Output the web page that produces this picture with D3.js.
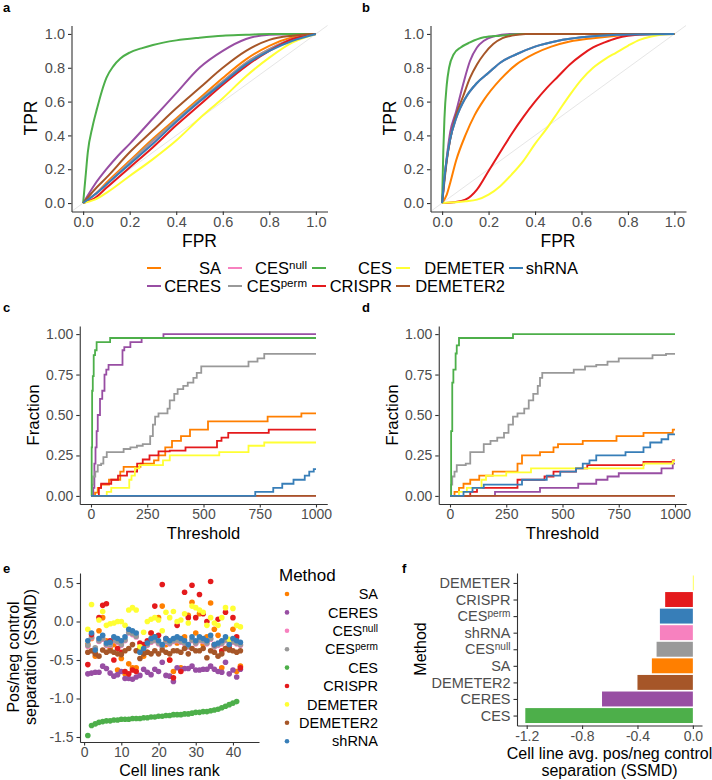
<!DOCTYPE html>
<html><head><meta charset="utf-8">
<script src="https://cdn.jsdelivr.net/npm/d3@7"></script>
<style>body{margin:0;background:#fff} svg{font-family:"Liberation Sans",Arial,sans-serif}</style>
</head><body><svg id="c" width="712" height="780"></svg>
<script>
// ---------- DATA ----------
const methods = ["SA","CERES","CESnull","CESperm","CES","CRISPR","DEMETER","DEMETER2","shRNA"];
const colors  = ["#FF7F00","#984EA3","#F781BF","#999999","#4DAF4A","#E41A1C","#FFFF33","#A65628","#377EB8"];

// Panel a ROC [FPR, TPR]
const rocA_SA = [[0,0],[0.05,0.05],[0.1,0.12],[0.2,0.25],[0.3,0.38],[0.4,0.5],[0.5,0.62],[0.6,0.74],[0.7,0.85],[0.8,0.93],[0.9,0.98],[1,1]];
const rocA_CERES = [[0,0],[0.05,0.11],[0.1,0.2],[0.15,0.28],[0.2,0.35],[0.3,0.5],[0.4,0.65],[0.5,0.8],[0.6,0.9],[0.7,0.97],[0.8,0.995],[1,1]];
const rocA_CESnull = [[0,0],[0.05,0.05],[0.1,0.11],[0.2,0.24],[0.3,0.36],[0.4,0.48],[0.5,0.6],[0.6,0.72],[0.7,0.83],[0.8,0.91],[0.9,0.97],[1,1]];
const rocA_CESperm = [[0,0],[0.05,0.05],[0.1,0.11],[0.2,0.24],[0.3,0.37],[0.4,0.49],[0.5,0.61],[0.6,0.72],[0.7,0.83],[0.8,0.91],[0.9,0.97],[1,1]];
const rocA_CES = [[0,0],[0.01,0.15],[0.02,0.3],[0.04,0.45],[0.06,0.56],[0.08,0.66],[0.1,0.74],[0.13,0.81],[0.16,0.855],[0.2,0.89],[0.25,0.915],[0.3,0.935],[0.4,0.962],[0.5,0.978],[0.6,0.99],[0.7,0.995],[0.8,1],[1,1]];
const rocA_CRISPR = [[0,0],[0.05,0.03],[0.1,0.09],[0.2,0.21],[0.3,0.33],[0.4,0.46],[0.5,0.58],[0.6,0.7],[0.7,0.81],[0.8,0.9],[0.9,0.97],[1,1]];
const rocA_DEMETER = [[0,0],[0.05,0.02],[0.1,0.06],[0.2,0.16],[0.3,0.26],[0.4,0.37],[0.5,0.5],[0.6,0.62],[0.7,0.75],[0.8,0.86],[0.9,0.95],[1,1]];
const rocA_DEMETER2 = [[0,0],[0.05,0.08],[0.1,0.15],[0.2,0.3],[0.3,0.43],[0.4,0.56],[0.5,0.68],[0.6,0.8],[0.7,0.9],[0.8,0.965],[0.9,0.99],[1,1]];
const rocA_shRNA = [[0,0],[0.05,0.05],[0.1,0.11],[0.2,0.23],[0.3,0.35],[0.4,0.48],[0.5,0.6],[0.6,0.71],[0.7,0.82],[0.8,0.9],[0.9,0.96],[1,1]];

// Panel b ROC
const rocB_SA = [[0,0],[0.02,0.05],[0.035,0.12],[0.06,0.25],[0.1,0.4],[0.14,0.52],[0.18,0.61],[0.25,0.73],[0.32,0.82],[0.4,0.885],[0.47,0.925],[0.55,0.955],[0.65,0.975],[0.75,0.99],[0.85,1],[1,1]];
const rocB_CERES = [[0,0],[0.01,0.15],[0.02,0.27],[0.035,0.42],[0.06,0.54],[0.09,0.7],[0.12,0.84],[0.15,0.92],[0.18,0.96],[0.22,0.985],[0.3,1],[1,1]];
const rocB_CESnull = [[0,0],[0.01,0.15],[0.02,0.26],[0.035,0.38],[0.06,0.5],[0.1,0.62],[0.15,0.71],[0.2,0.77],[0.25,0.83],[0.32,0.88],[0.4,0.925],[0.5,0.96],[0.6,0.98],[0.75,0.995],[1,1]];
const rocB_CESperm = [[0,0],[0.01,0.15],[0.02,0.26],[0.035,0.38],[0.06,0.5],[0.1,0.62],[0.15,0.71],[0.2,0.77],[0.25,0.83],[0.32,0.88],[0.4,0.925],[0.5,0.96],[0.6,0.98],[0.75,0.995],[1,1]];
const rocB_CES = [[0,0],[0.005,0.3],[0.01,0.5],[0.02,0.7],[0.03,0.8],[0.05,0.88],[0.08,0.92],[0.12,0.95],[0.18,0.98],[0.25,0.99],[0.35,1],[1,1]];
const rocB_CRISPR = [[0,0],[0.05,0.005],[0.1,0.02],[0.15,0.08],[0.2,0.19],[0.25,0.3],[0.3,0.41],[0.35,0.51],[0.4,0.6],[0.45,0.68],[0.5,0.75],[0.55,0.82],[0.6,0.875],[0.65,0.92],[0.7,0.95],[0.75,0.975],[0.8,0.99],[0.9,1],[1,1]];
const rocB_DEMETER = [[0,0],[0.1,0.01],[0.15,0.02],[0.2,0.05],[0.25,0.1],[0.3,0.17],[0.35,0.25],[0.4,0.35],[0.45,0.44],[0.5,0.54],[0.55,0.64],[0.6,0.73],[0.65,0.8],[0.7,0.85],[0.75,0.89],[0.8,0.93],[0.85,0.965],[0.9,0.985],[0.95,0.997],[1,1]];
const rocB_DEMETER2 = [[0,0],[0.01,0.13],[0.02,0.25],[0.035,0.38],[0.06,0.52],[0.09,0.63],[0.12,0.74],[0.15,0.82],[0.18,0.88],[0.22,0.94],[0.26,0.975],[0.3,0.99],[0.36,1],[1,1]];
const rocB_shRNA = [[0,0],[0.01,0.15],[0.02,0.26],[0.035,0.38],[0.06,0.5],[0.1,0.62],[0.15,0.71],[0.2,0.77],[0.25,0.83],[0.32,0.88],[0.4,0.925],[0.5,0.96],[0.6,0.98],[0.75,0.995],[1,1]];

// Panel c steps [threshold, fraction]
const fracC_SA = [[0,0],[18,0.02],[30,0.05],[45,0.07],[80,0.1],[130,0.15],[145,0.18],[220,0.2],[280,0.22],[300,0.25],[330,0.3],[360,0.34],[400,0.37],[440,0.41],[520,0.46],[785,0.49],[935,0.51],[1000,0.51]];
const fracC_CERES = [[0,0],[10,0.05],[15,0.2],[20,0.3],[25,0.4],[30,0.5],[40,0.6],[50,0.65],[60,0.75],[68,0.78],[78,0.81],[140,0.9],[148,0.92],[175,0.95],[225,0.975],[322,1.0],[1000,1.0]];
const fracC_CESnull = [[0,0],[1000,0]];
const fracC_CESperm = [[0,0],[5,0.07],[10,0.12],[19,0.15],[30,0.19],[45,0.2],[55,0.24],[70,0.27],[145,0.29],[175,0.3],[204,0.31],[230,0.32],[263,0.37],[275,0.44],[285,0.49],[300,0.51],[340,0.54],[350,0.59],[370,0.63],[385,0.66],[410,0.68],[430,0.7],[455,0.73],[470,0.76],[490,0.8],[700,0.83],[740,0.85],[770,0.878],[1000,0.878]];
const fracC_CES = [[0,0],[3,0.3],[5,0.65],[8,0.74],[12,0.87],[18,0.9],[25,0.95],[85,0.976],[1000,0.976]];
const fracC_CRISPR = [[0,0],[35,0.05],[45,0.075],[90,0.1],[120,0.125],[160,0.15],[205,0.2],[230,0.225],[260,0.25],[300,0.275],[350,0.28],[420,0.3],[560,0.34],[580,0.36],[610,0.39],[790,0.41],[1000,0.41]];
const fracC_DEMETER = [[0,0],[70,0.025],[90,0.05],[170,0.1],[180,0.125],[195,0.17],[215,0.19],[320,0.22],[350,0.25],[570,0.27],[700,0.31],[770,0.33],[1000,0.33]];
const fracC_DEMETER2 = [[0,0],[1000,0]];
const fracC_shRNA = [[0,0],[730,0.025],[810,0.05],[850,0.075],[900,0.1],[950,0.125],[970,0.15],[990,0.165],[1000,0.165]];

// Panel d steps
const fracD_SA = [[0,0],[20,0.025],[40,0.05],[60,0.075],[90,0.1],[130,0.125],[190,0.15],[300,0.2],[320,0.25],[400,0.27],[460,0.3],[480,0.32],[590,0.34],[740,0.37],[860,0.39],[990,0.41],[1000,0.41]];
const fracD_CERES = [[0,0],[200,0.025],[400,0.05],[570,0.075],[650,0.1],[700,0.12],[750,0.14],[940,0.17],[990,0.2],[1000,0.2]];
const fracD_CESnull = [[0,0],[1000,0]];
const fracD_CESperm = [[0,0],[5,0.07],[10,0.12],[20,0.15],[30,0.19],[70,0.2],[90,0.27],[130,0.27],[150,0.32],[180,0.34],[210,0.36],[240,0.39],[260,0.44],[280,0.49],[300,0.51],[330,0.54],[350,0.59],[370,0.63],[390,0.68],[400,0.73],[410,0.76],[550,0.78],[600,0.8],[650,0.81],[700,0.83],[750,0.85],[900,0.87],[960,0.878],[1000,0.878]];
const fracD_CES = [[0,0],[5,0.4],[10,0.7],[15,0.78],[25,0.88],[30,0.93],[40,0.976],[280,1.0],[1000,1.0]];
const fracD_CRISPR = [[0,0],[90,0.025],[120,0.05],[300,0.1],[420,0.12],[460,0.15],[560,0.17],[610,0.19],[860,0.21],[990,0.22],[1000,0.22]];
const fracD_DEMETER = [[0,0],[40,0.025],[75,0.05],[140,0.1],[160,0.125],[250,0.145],[360,0.17],[570,0.17],[860,0.2],[990,0.215],[1000,0.215]];
const fracD_DEMETER2 = [[0,0],[1000,0]];
const fracD_shRNA = [[0,0],[60,0.025],[100,0.05],[150,0.07],[320,0.1],[430,0.125],[490,0.15],[560,0.17],[590,0.2],[620,0.22],[650,0.25],[780,0.27],[860,0.3],[890,0.33],[940,0.35],[970,0.38],[1000,0.38]];

// Panel e SSMD per cell line rank (rank = index + 1)
const ssmd_SA = [-0.30,-0.22,-0.45,-0.12,0.05,-0.25,-0.35,-0.30,-0.63,-0.48,-0.68,-0.55,-0.60,-0.60,-0.35,-0.45,-0.40,-0.15,-0.20,0.05,0.20,-0.30,-0.50,-0.65,-0.28,-0.60,-0.20,0.08,0.25,-0.15,0.10,-0.30,-0.20,0.24,-0.10,-0.18,-0.60,-0.35,-0.35,-0.10,-0.65,-0.58];
const ssmd_CERES = [-0.68,-0.67,-0.66,-0.66,-0.58,-0.61,-0.67,-0.71,-0.69,-0.65,-0.74,-0.74,-0.75,-0.72,-0.70,-0.62,-0.66,-0.69,-0.62,-0.65,-0.53,-0.70,-0.71,-0.78,-0.60,-0.63,-0.61,-0.61,-0.58,-0.63,-0.63,-0.62,-0.62,-0.58,-0.62,-0.65,-0.66,-0.53,-0.68,-0.63,-0.72,-0.62];
const ssmd_CESnull = [-0.32,-0.21,-0.35,-0.26,-0.23,-0.31,-0.31,-0.25,-0.27,-0.31,-0.25,-0.15,-0.17,-0.20,-0.39,-0.34,-0.31,-0.27,-0.25,-0.29,-0.33,-0.27,-0.29,-0.26,-0.25,-0.27,-0.29,-0.33,-0.25,-0.29,-0.25,-0.26,-0.29,-0.23,-0.33,-0.31,-0.29,-0.25,-0.33,-0.27,-0.29,-0.31];
const ssmd_CESperm = [-0.31,-0.20,-0.34,-0.25,-0.22,-0.30,-0.30,-0.24,-0.26,-0.30,-0.24,-0.14,-0.16,-0.19,-0.38,-0.33,-0.30,-0.26,-0.24,-0.28,-0.32,-0.26,-0.28,-0.25,-0.24,-0.26,-0.28,-0.32,-0.24,-0.28,-0.24,-0.25,-0.28,-0.22,-0.32,-0.30,-0.28,-0.24,-0.32,-0.26,-0.28,-0.30];
const ssmd_CES = [-1.48,-1.35,-1.33,-1.31,-1.30,-1.29,-1.29,-1.28,-1.28,-1.27,-1.27,-1.27,-1.26,-1.26,-1.26,-1.25,-1.25,-1.24,-1.24,-1.23,-1.23,-1.22,-1.22,-1.21,-1.21,-1.21,-1.20,-1.20,-1.19,-1.18,-1.18,-1.17,-1.17,-1.16,-1.15,-1.14,-1.12,-1.10,-1.08,-1.06,-1.04];
const ssmd_CRISPR = [-0.56,-0.17,-0.40,0.05,0.21,0.23,-0.25,-0.50,-0.35,-0.40,-0.65,-0.68,-0.63,-0.65,-0.28,-0.30,-0.25,-0.15,0.20,-0.18,0.48,-0.22,-0.50,-0.73,-0.05,-0.65,0.38,0.05,0.47,0.05,0.35,0.10,0.00,0.52,-0.30,0.03,-0.38,0.12,-0.35,0.05,-0.20,-0.60];
const ssmd_DEMETER = [-0.10,0.22,-0.38,0.02,0.13,-0.05,-0.03,-0.02,0.00,0.00,-0.05,0.15,0.18,0.15,-0.33,-0.14,0.00,0.03,0.05,0.02,-0.12,0.12,0.05,0.13,0.00,0.02,0.10,-0.02,0.20,0.18,0.15,0.12,-0.05,0.05,-0.02,-0.05,0.05,0.18,-0.23,0.17,-0.05,-0.07];
const ssmd_DEMETER2 = [-0.40,-0.38,-0.42,-0.45,-0.37,-0.40,-0.38,-0.40,-0.42,-0.43,-0.38,-0.35,-0.30,-0.38,-0.48,-0.42,-0.40,-0.42,-0.38,-0.42,-0.37,-0.40,-0.42,-0.38,-0.38,-0.40,-0.35,-0.42,-0.35,-0.38,-0.38,-0.35,-0.47,-0.38,-0.40,-0.45,-0.42,-0.35,-0.37,-0.38,-0.40,-0.38];
const ssmd_shRNA = [-0.25,-0.15,-0.37,-0.22,-0.18,-0.28,-0.27,-0.20,-0.22,-0.25,-0.20,-0.10,-0.12,-0.15,-0.40,-0.35,-0.28,-0.22,-0.20,-0.25,-0.30,-0.22,-0.25,-0.22,-0.20,-0.22,-0.25,-0.30,-0.20,-0.25,-0.20,-0.22,-0.25,-0.18,-0.30,-0.28,-0.25,-0.20,-0.30,-0.22,-0.25,-0.27];

// Panel f bars (top to bottom)
const barCats   = ["DEMETER","CRISPR","CESperm","shRNA","CESnull","SA","DEMETER2","CERES","CES"];
const barValues = [0.004,-0.20,-0.238,-0.238,-0.262,-0.296,-0.40,-0.656,-1.21];
const barColors = ["#FFFF33","#E41A1C","#377EB8","#F781BF","#999999","#FF7F00","#A65628","#984EA3","#4DAF4A"];

// Tick labels
const rocTicks = [0,0.2,0.4,0.6,0.8,1.0];
const fracYTicks = [0,0.25,0.5,0.75,1.0];
const threshTicks = [0,250,500,750,1000];
const ssmdYTicks = [-1.5,-1.0,-0.5,0.0,0.5];
const rankTicks = [0,10,20,30,40];
const barXTicks = [-1.2,-0.8,-0.4,0.0];

const rocA = [rocA_SA,rocA_CERES,rocA_CESnull,rocA_CESperm,rocA_CES,rocA_CRISPR,rocA_DEMETER,rocA_DEMETER2,rocA_shRNA];
const rocB = [rocB_SA,rocB_CERES,rocB_CESnull,rocB_CESperm,rocB_CES,rocB_CRISPR,rocB_DEMETER,rocB_DEMETER2,rocB_shRNA];
const fracC = [fracC_SA,fracC_CERES,fracC_CESnull,fracC_CESperm,fracC_CES,fracC_CRISPR,fracC_DEMETER,fracC_DEMETER2,fracC_shRNA];
const fracD = [fracD_SA,fracD_CERES,fracD_CESnull,fracD_CESperm,fracD_CES,fracD_CRISPR,fracD_DEMETER,fracD_DEMETER2,fracD_shRNA];
const ssmd = [ssmd_SA,ssmd_CERES,ssmd_CESnull,ssmd_CESperm,ssmd_CES,ssmd_CRISPR,ssmd_DEMETER,ssmd_DEMETER2,ssmd_shRNA];

// ---------- DRAW ----------
const svg = d3.select("#c");
const fix = s => s.replace(/\u2212/g,"-");
const f1 = v => fix(d3.format(".1f")(v));
const f2 = v => fix(d3.format(".2f")(v));
const fd = v => d3.format("d")(v);
const TICK = 14.5;

function label(sel, name) {
  const m = name.match(/^CES(null|perm)$/);
  if (m) {
    sel.append("tspan").text("CES");
    sel.append("tspan").attr("dy","-0.42em").attr("font-size","70%").text(m[1]);
  } else sel.text(name);
}

function styleAxis(g, fs) {
  g.attr("font-family", null).attr("font-size", null);
  g.select(".domain").attr("stroke","#333").attr("stroke-width",1.1);
  g.selectAll(".tick line").attr("stroke","#333").attr("stroke-width",1.1);
  g.selectAll(".tick text").attr("fill","#4d4d4d").attr("font-size",fs);
}

function axes(x, y, xt, yt, xf, yf, fs) {
  const gx = svg.append("g").attr("transform",`translate(0,${y.range()[0]})`)
    .call(d3.axisBottom(x).tickValues(xt).tickFormat(xf).tickSize(3.5).tickSizeOuter(0).tickPadding(2));
  const gy = svg.append("g").attr("transform",`translate(${x.range()[0]},0)`)
    .call(d3.axisLeft(y).tickValues(yt).tickFormat(yf).tickSize(3.5).tickSizeOuter(0).tickPadding(3));
  styleAxis(gx, fs); styleAxis(gy, fs);
  return [gx, gy];
}

function title(x, y, txt, fs, rot) {
  const t = svg.append("text").attr("font-size",fs).attr("fill","#000").attr("text-anchor","middle");
  if (rot) t.attr("transform",`translate(${x},${y}) rotate(-90)`).attr("dy","0.35em");
  else t.attr("x",x).attr("y",y);
  t.text(txt);
  return t;
}

function letter(x, y, t) {
  svg.append("text").attr("x",x).attr("y",y).attr("font-size",13).attr("font-weight","bold").text(t);
}

// ROC panels
function rocPanel(xr, data) {
  const x = d3.scaleLinear().domain([-0.05,1.05]).range(xr);
  const y = d3.scaleLinear().domain([-0.05,1.05]).range([211.5,25.5]);
  svg.append("line").attr("x1",x(-0.05)).attr("y1",y(-0.05)).attr("x2",x(1.05)).attr("y2",y(1.05))
    .attr("stroke","#e6e6e6").attr("stroke-width",1);
  const line = d3.line().x(d=>x(d[0])).y(d=>y(d[1])).curve(d3.curveMonotoneX);
  data.forEach((s,i)=>{
    svg.append("path").attr("d",line(s)).attr("fill","none").attr("stroke",colors[i]).attr("stroke-width",2);
  });
  axes(x, y, rocTicks, rocTicks, f1, f1, TICK);
  return x;
}
rocPanel([71.5,327.5], rocA);
rocPanel([430.5,686], rocB);
letter(3,12,"a"); letter(362,12,"b");
title(31,118,"TPR",17.5,true); title(390,118,"TPR",17.5,true);
title(199.5,247,"FPR",17.5); title(558,247,"FPR",17.5);

// Top legend
const legRow1 = ["SA","CESnull","CES","DEMETER","shRNA"];
const legRow2 = ["CERES","CESperm","CRISPR","DEMETER2"];
const keyX = [147,228,312,396,509];
const labEnd = [221,307,392,505,578];
[[legRow1,268],[legRow2,286]].forEach(([row,yy])=>{
  row.forEach((m,j)=>{
    const ci = methods.indexOf(m);
    svg.append("line").attr("x1",keyX[j]).attr("x2",keyX[j]+14).attr("y1",yy).attr("y2",yy)
      .attr("stroke",colors[ci]).attr("stroke-width",2);
    const t = svg.append("text").attr("x",labEnd[j]).attr("y",yy).attr("dy","0.36em")
      .attr("text-anchor","end").attr("font-size",16.5).attr("fill","#000");
    label(t, m);
  });
});

// Step panels
function stepPanel(xr, data) {
  const x = d3.scaleLinear().domain([-50,1050]).range(xr);
  const y = d3.scaleLinear().domain([-0.05,1.05]).range([504,326]);
  const line = d3.line().x(d=>x(d[0])).y(d=>y(d[1])).curve(d3.curveStepAfter);
  data.forEach((s,i)=>{
    svg.append("path").attr("d",line(s)).attr("fill","none").attr("stroke",colors[i]).attr("stroke-width",1.8);
  });
  axes(x, y, threshTicks, fracYTicks, fd, f2, 14);
}
stepPanel([79.75,327.25], fracC);
stepPanel([438.75,686.25], fracD);
letter(3,312,"c"); letter(362,312,"d");
title(33,415,"Fraction",17,true); title(392,415,"Fraction",17,true);
title(203.5,539,"Threshold",16.5); title(562.5,539,"Threshold",16.5);

// Panel e scatter
{
  const x = d3.scaleLinear().domain([-1.1,47]).range([80,259]);
  const y = d3.scaleLinear().domain([-1.565,0.63]).range([742,573]);
  ssmd.forEach((s,i)=>{
    svg.append("g").selectAll("circle").data(s).join("circle")
      .attr("cx",(d,k)=>x(k+1)).attr("cy",d=>y(d)).attr("r",2.8).attr("fill",colors[i]);
  });
  axes(x, y, rankTicks, ssmdYTicks, fd, f1, 14);
  letter(3,573,"e");
  const t = svg.append("text").attr("transform","translate(22,657) rotate(-90)").attr("text-anchor","middle")
    .attr("font-size",16);
  t.append("tspan").attr("x",0).attr("dy","-0.2em").text("Pos/neg control");
  t.append("tspan").attr("x",0).attr("dy","1.1em").text("separation (SSMD)");
  title(169.5,776,"Cell lines rank",16);
  // legend
  svg.append("text").attr("x",279).attr("y",581).attr("font-size",17).text("Method");
  methods.forEach((m,i)=>{
    const yy = 594 + i*18.4;
    svg.append("circle").attr("cx",287).attr("cy",yy).attr("r",2.3).attr("fill",colors[i]);
    const tt = svg.append("text").attr("x",378).attr("y",yy).attr("dy","0.36em").attr("text-anchor","end")
      .attr("font-size",14.5).attr("fill","#000");
    label(tt, m);
  });
}

// Panel f bars
{
  const x = d3.scaleLinear().domain([-1.27,0.066]).range([517,702]);
  const y = d3.scalePoint().domain(barCats).range([573,725.5]).padding(0.6);
  const bh = y.step()*0.9;
  svg.append("g").selectAll("rect").data(barCats).join("rect")
    .attr("x",(d,i)=>x(Math.min(0,barValues[i])))
    .attr("width",(d,i)=>Math.max(0.8,Math.abs(x(barValues[i])-x(0))))
    .attr("y",d=>y(d)-bh/2).attr("height",bh)
    .attr("fill",(d,i)=>barColors[i]);
  const gx = svg.append("g").attr("transform","translate(0,725.5)")
    .call(d3.axisBottom(x).tickValues(barXTicks).tickFormat(f1).tickSize(3.5).tickSizeOuter(0).tickPadding(2));
  const gy = svg.append("g").attr("transform","translate(517,0)")
    .call(d3.axisLeft(y).tickSize(3.5).tickSizeOuter(0).tickPadding(3));
  styleAxis(gx, 14); styleAxis(gy, 14.5);
  gy.selectAll(".tick text").each(function(d){ const s=d3.select(this); s.text(null); label(s,d); });
  letter(402,573,"f");
  title(420,649,"Method",16,true);
  title(609.5,759,"Cell line avg. pos/neg control",16);
  title(609.5,776,"separation (SSMD)",16);
}
</script></body></html>
